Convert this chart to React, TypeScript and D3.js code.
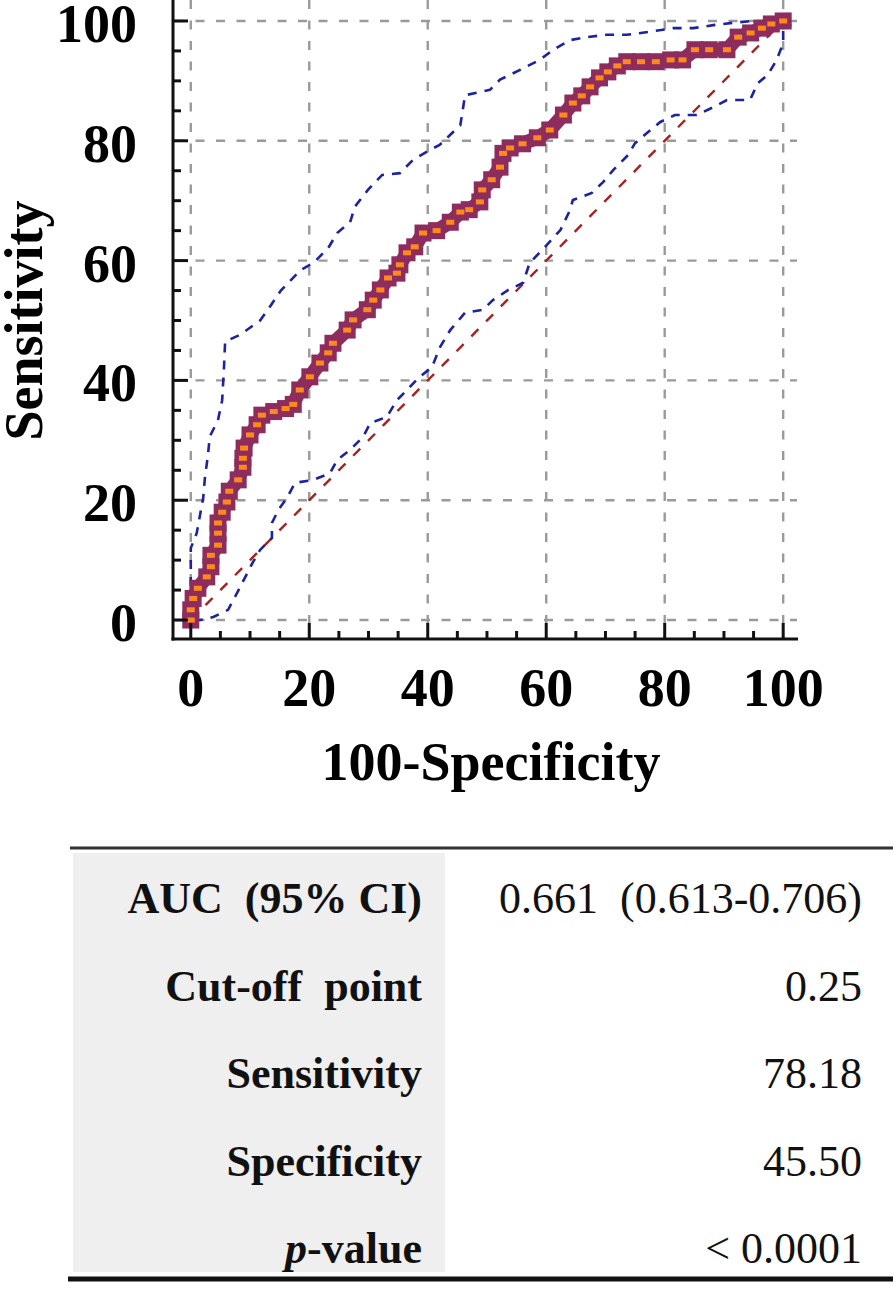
import React from "react";
import * as d3 from "d3";

// ROC curve (100-Specificity, Sensitivity)
const rocX = [0,0,0.4,1.2,2.7,3.4,3.4,4.6,4.6,4.6,5.3,6.1,6.5,8,8.8,8.8,9,10,11.2,12,14,16,17.3,18.4,20.1,21.8,23.2,24,26.4,27.4,29.8,30.8,32,33.3,34.8,35.3,36.5,37.8,39.2,41.5,43.8,45.5,47,48.8,49.2,50.8,52.2,52.7,53.9,56,58.5,60.6,62.9,64.5,66,67.4,69,70.4,72,73.6,76,78.5,81,83,85.1,87.5,90.5,92.4,94.5,96.4,98,100];
const rocY = [0,1.7,3.6,5.3,7.2,8.9,10.8,12.5,14.5,16.2,18,19.7,21.5,23.4,25.5,27,28.7,30.9,32.6,34.2,34.8,35.3,36,38.4,40.6,42.9,44.6,46.2,48.4,50.1,51.8,53.4,55.1,57.1,57.9,59.3,61.3,62.3,64.6,65,66.4,68.1,68.5,69.8,71.8,73.5,75.6,77.9,78.8,79.5,80.5,81.8,84.3,86.3,87.5,89,90.5,91.5,92.5,93.2,93.2,93.2,93.5,93.5,95.2,95.2,95.2,97.3,98,98.8,99.5,100];

// Upper 95% confidence bound
const upperX = [0,0,1,2.1,2.4,2.9,3.2,4.6,5.3,5.6,5.8,8.3,11.7,13.5,15.2,18.5,20.7,23.2,24.7,26.9,27.7,29.9,32.3,35.3,37.5,40.4,42,45.5,46.3,50.5,52.2,55.5,58.9,61.2,64,66.9,70.2,73.6,77.5,81.4,84.8,88.2,91.5,94.9,100];
const upperY = [0,12,14.5,20.4,23.9,27.5,30.6,33.4,36.7,42,46.5,47.6,50,52.5,55,58.4,59.6,62.1,64.6,66.4,69,71.8,74.3,74.6,76.8,78.5,79.3,82.6,87.6,88.5,90.2,91.8,93.5,95.2,96.8,97.3,97.7,97.7,98.2,98.8,98.8,99.3,99.7,100,100];

// Lower 95% confidence bound
const lowerX = [0.5,1.6,3.8,6.3,7.8,10.4,11.7,13.7,13.7,14.8,16.3,17.6,20.7,23.5,24.7,26.9,29.1,30.3,33.1,34.8,36.5,38.4,40.7,42.1,43.8,46.3,49.3,51,53.6,56.1,57.2,59.8,62.4,64,64.5,67.7,69.6,71.3,73.8,75,77,79.2,81.7,85.4,88.2,90.5,94.4,95.7,97.4,98.9,100,100];
const lowerY = [0,0,0.5,1.7,4.5,9.5,11.7,13.7,16.2,18.4,20.5,22.9,23.4,24.5,26.7,28.4,30.6,32.9,33.9,36.7,38.4,40.4,42.2,45.6,48.4,51.3,51.8,53.4,55.1,56.3,59.6,62.3,65.1,68.4,70.1,71.3,73.1,75.1,77.6,79.6,81.3,83.1,84.3,84.3,85.6,86.8,86.8,89.6,91,93.5,96.3,100];

const diagonal = [0, 100];
const majorTicks = [0, 20, 40, 60, 80, 100];
const minorTicks = d3.range(0, 101, 5);

const tableLabels = ["AUC  (95% CI)", "Cut-off  point", "Sensitivity", "Specificity", "p-value"];
const tableValues = ["0.661  (0.613-0.706)", "0.25", "78.18", "45.50", "< 0.0001"];

const SERIF = "'Liberation Serif', 'Times New Roman', Times, serif";

export default function App() {
  const x = d3.scaleLinear().domain([-3, 102.5]).range([173, 798]);
  const y = d3.scaleLinear().domain([-3, 103.5]).range([638, 0]);

  const mk = (xs: number[], ys: number[]) => xs.map((v, i) => [v, ys[i]] as [number, number]);
  const line = d3.line<[number, number]>().x((d) => x(d[0])).y((d) => y(d[1]));

  const roc = mk(rocX, rocY);
  const upper = mk(upperX, upperY);
  const lower = mk(lowerX, lowerY);
  const diag = mk(diagonal, diagonal);

  const plotTop = 0;
  const axisY = 639;
  const axisX = 173;

  const rowY = d3.scaleLinear().domain([0, 4]).range([913, 1263]);

  return (
    <svg
      width={896}
      height={1290}
      style={{ position: "absolute", left: 0, top: 0, background: "#fff" }}
      fontFamily={SERIF}
    >
      <rect x={0} y={0} width={896} height={1290} fill="#fff" />
      {/* grid */}
      <g stroke="#9a9a9a" strokeWidth={2.4} strokeDasharray="9,11.5" fill="none">
        {majorTicks.map((t) => (
          <line key={"v" + t} x1={x(t)} x2={x(t)} y1={plotTop} y2={axisY - 2} />
        ))}
        {majorTicks.map((t) => (
          <line key={"h" + t} x1={axisX + 2} x2={797} y1={y(t)} y2={y(t)} />
        ))}
      </g>
      {/* diagonal */}
      <path d={line(diag) || ""} stroke="#a82020" strokeWidth={2.4} strokeDasharray="10,11" fill="none" />
      {/* CIs */}
      <path d={line(upper) || ""} stroke="#1c22a0" strokeWidth={2.6} strokeDasharray="9,8" fill="none" />
      <path d={line(lower) || ""} stroke="#1c22a0" strokeWidth={2.6} strokeDasharray="9,8" fill="none" />
      {/* ROC */}
      <path d={line(roc) || ""} stroke="#8e2c5e" strokeWidth={14} strokeLinejoin="round" strokeLinecap="square" fill="none" />
      {roc.map((d, i) => (
        <rect key={"m" + i} x={x(d[0]) - 8.5} y={y(d[1]) - 8.5} width={17} height={17} fill="#8e2c5e" />
      ))}
      {roc.map((d, i) => (
        <rect key={"o" + i} x={x(d[0]) - 4} y={y(d[1]) - 2.5} width={8} height={5} fill="#ff8a1c" />
      ))}
      {/* axes */}
      <g stroke="#111" strokeWidth={3}>
        <line x1={axisX} x2={axisX} y1={0} y2={axisY + 1.5} />
        <line x1={axisX - 1.5} x2={798} y1={axisY} y2={axisY} />
        {minorTicks.map((t) => {
          const major = t % 20 === 0;
          return (
            <g key={"t" + t}>
              <line x1={axisX} x2={axisX + (major ? 15 : 8)} y1={y(t)} y2={y(t)} />
              <line x1={x(t)} x2={x(t)} y1={axisY} y2={axisY - (major ? 16 : 8)} />
            </g>
          );
        })}
      </g>
      {/* tick labels */}
      <g fontWeight="bold" fontSize={54} fill="#000">
        {majorTicks.map((t) => (
          <text key={"yl" + t} x={137} y={y(t)} dy="0.39em" textAnchor="end">
            {t}
          </text>
        ))}
        {majorTicks.map((t) => (
          <text key={"xl" + t} x={x(t)} y={706} textAnchor="middle">
            {t}
          </text>
        ))}
        <text x={491} y={780} textAnchor="middle">100-Specificity</text>
        <text transform={`translate(42, ${y(50)}) rotate(-90)`} textAnchor="middle">Sensitivity</text>
      </g>
      {/* table */}
      <rect x={73} y={853} width={372} height={419} fill="#efefef" />
      <line x1={70} x2={893} y1={848} y2={848} stroke="#333" strokeWidth={3} />
      <line x1={68} x2={893} y1={1279} y2={1279} stroke="#111" strokeWidth={5} />
      <g fontSize={44} fill="#111">
        {tableLabels.map((l, i) => (
          <text key={"tl" + i} x={422} y={rowY(i)} textAnchor="end" fontWeight="bold" style={{ whiteSpace: "pre" }}>
            {l === "p-value" ? (
              <>
                <tspan fontStyle="italic">p</tspan>
                <tspan>-value</tspan>
              </>
            ) : (
              l
            )}
          </text>
        ))}
        {tableValues.map((v, i) => (
          <text key={"tv" + i} x={862} y={rowY(i)} textAnchor="end" style={{ whiteSpace: "pre" }}>
            {v}
          </text>
        ))}
      </g>
    </svg>
  );
}
